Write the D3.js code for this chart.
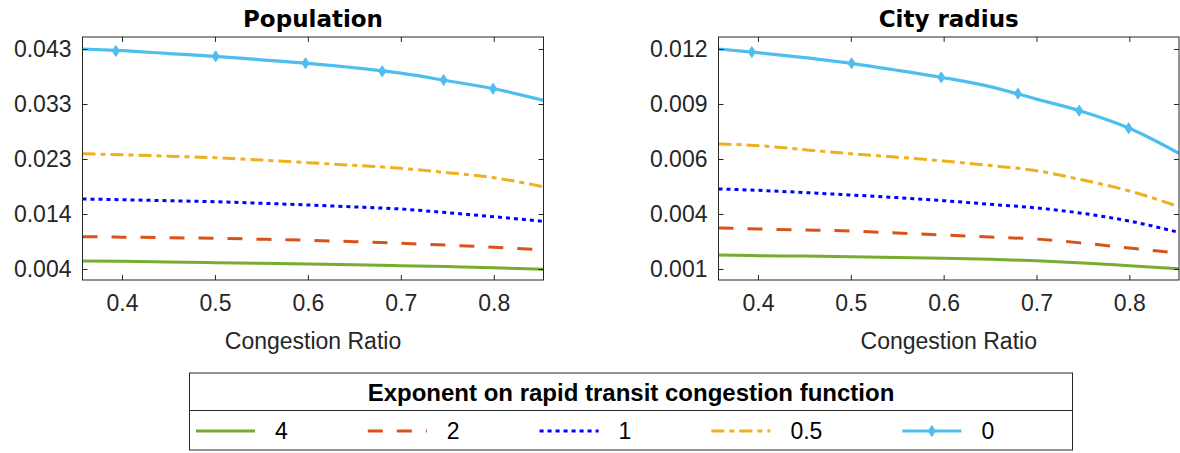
<!DOCTYPE html>
<html>
<head>
<meta charset="utf-8">
<script src="https://cdn.jsdelivr.net/npm/d3@7"></script>
<style>
  html, body { margin: 0; padding: 0; background: #fff; }
  svg { display: block; font-family: "Liberation Sans", Arial, Helvetica, sans-serif; }
</style>
</head>
<body>
<svg id="chart" width="1180" height="453"></svg>
<script>
// ---------------- data ----------------
const congestionRatio = [0.3575, 0.4, 0.45, 0.5, 0.55, 0.6, 0.65, 0.7, 0.75, 0.8, 0.8535];
const seriesNames = ["4", "2", "1", "0.5", "0"];

// Population panel
const popExp4   = [0.00541, 0.00535, 0.00523, 0.00511, 0.00500, 0.00488, 0.00474, 0.00458, 0.00442, 0.00423, 0.00395];
const popExp2   = [0.00970, 0.00962, 0.00952, 0.00941, 0.00925, 0.00906, 0.00882, 0.00853, 0.00820, 0.00783, 0.00735];
const popExp1   = [0.01635, 0.01622, 0.01605, 0.01587, 0.01560, 0.01529, 0.01495, 0.01458, 0.01393, 0.01322, 0.01241];
const popExp05  = [0.02433, 0.02416, 0.02390, 0.02363, 0.02322, 0.02275, 0.02229, 0.02176, 0.02098, 0.02010, 0.01851];
const popExp0   = [0.04280, 0.04250, 0.04200, 0.04151, 0.04090, 0.04028, 0.03950, 0.03855, 0.03720, 0.03580, 0.03375];

// City radius panel
const radExp4   = [0.00169, 0.00166, 0.00164, 0.00161, 0.00157, 0.00153, 0.00148, 0.00141, 0.00130, 0.00116, 0.00101];
const radExp2   = [0.00303, 0.00298, 0.00293, 0.00288, 0.00278, 0.00268, 0.00258, 0.00248, 0.00228, 0.00204, 0.00178];
const radExp1   = [0.00496, 0.00489, 0.00478, 0.00466, 0.00453, 0.00438, 0.00420, 0.00402, 0.00375, 0.00337, 0.00281];
const radExp05  = [0.00718, 0.00710, 0.00690, 0.00670, 0.00653, 0.00634, 0.00612, 0.00586, 0.00540, 0.00486, 0.00408];
const radExp0   = [0.01188, 0.01170, 0.01145, 0.01117, 0.01083, 0.01046, 0.01002, 0.00940, 0.00878, 0.00796, 0.00672];

// markers on the exponent-0 line
const markerRatio   = [0.3934, 0.5008, 0.5974, 0.6800, 0.7460, 0.7993];
const popMarkers0   = [0.04245, 0.04151, 0.04028, 0.03887, 0.03733, 0.03580];
const radMarkers0   = [0.01173, 0.01117, 0.01048, 0.00967, 0.00883, 0.00796];

// axis ticks
const xTicks = [0.4, 0.5, 0.6, 0.7, 0.8];
const xTickLabels = ["0.4", "0.5", "0.6", "0.7", "0.8"];
const popYTicks = [0.0040, 0.0137, 0.0234, 0.0331, 0.0428];
const popYTickLabels = ["0.004", "0.014", "0.023", "0.033", "0.043"];
const radYTicks = [0.00100, 0.00372, 0.00644, 0.00916, 0.01188];
const radYTickLabels = ["0.001", "0.004", "0.006", "0.009", "0.012"];
const popYDomain = [0.00206, 0.04492];
const radYDomain = [0.000456, 0.012473];
const xDomain = [0.3575, 0.8535];

const titles = ["Population", "City radius"];
const xLabel = "Congestion Ratio";
const legendTitle = "Exponent on rapid transit congestion function";

// ---------------- styles ----------------
const styles = {
  "4":   { color: "#77AC30", dash: null,          width: 3 },
  "2":   { color: "#D95319", dash: "15,14",       width: 3 },
  "1":   { color: "#0000FF", dash: "4,4",         width: 3 },
  "0.5": { color: "#EDB120", dash: "13,5,5,5",    width: 3 },
  "0":   { color: "#4DBEEE", dash: null,          width: 3.2, marker: true }
};

const svg = d3.select("#chart");
const axisColor = "#262626";
const titleFont = "'DejaVu Sans', 'Liberation Sans', Arial, sans-serif";
const regFont = "'Liberation Sans', Arial, sans-serif";

const panels = [
  { title: titles[0], left: 82.5, right: 543.5, series: [popExp4, popExp2, popExp1, popExp05, popExp0],
    yDomain: popYDomain, yTicks: popYTicks, yLabels: popYTickLabels, markers: popMarkers0 },
  { title: titles[1], left: 718.5, right: 1179, series: [radExp4, radExp2, radExp1, radExp05, radExp0],
    yDomain: radYDomain, yTicks: radYTicks, yLabels: radYTickLabels, markers: radMarkers0 }
];
const plotTop = 37, plotBottom = 280;

const diamond = (cx, cy, w, h) => `M${cx},${cy - h/2}L${cx + w/2},${cy}L${cx},${cy + h/2}L${cx - w/2},${cy}Z`;

panels.forEach((p, pi) => {
  const x = d3.scaleLinear().domain(xDomain).range([p.left, p.right]);
  const y = d3.scaleLinear().domain(p.yDomain).range([plotBottom, plotTop]);
  const g = svg.append("g");

  const clipId = "clip" + pi;
  svg.append("clipPath").attr("id", clipId).append("rect")
    .attr("x", p.left).attr("y", plotTop).attr("width", p.right - p.left).attr("height", plotBottom - plotTop);

  // lines
  const lineGen = d3.line().x((d, i) => x(congestionRatio[i])).y(d => y(d)).curve(d3.curveMonotoneX);
  const lg = g.append("g").attr("clip-path", `url(#${clipId})`);
  p.series.forEach((vals, si) => {
    const st = styles[seriesNames[si]];
    lg.append("path").datum(vals)
      .attr("d", lineGen)
      .attr("fill", "none")
      .attr("stroke", st.color)
      .attr("stroke-width", st.width)
      .attr("stroke-dasharray", st.dash)
      .attr("stroke-linejoin", "round");
  });
  // markers
  lg.selectAll("path.mk").data(p.markers).enter().append("path")
    .attr("class", "mk")
    .attr("d", (d, i) => diamond(x(markerRatio[i]), y(d), 7, 11))
    .attr("fill", styles["0"].color)
    .attr("stroke", styles["0"].color)
    .attr("stroke-width", 1);

  // axes (box with ticks inside on all sides)
  const axisFont = "23px";
  const xb = g.append("g").attr("transform", `translate(0,${plotBottom})`)
    .call(d3.axisBottom(x).tickValues(xTicks).tickFormat((d, i) => xTickLabels[i]).tickSizeInner(-5).tickSizeOuter(0).tickPadding(15));
  const xt = g.append("g").attr("transform", `translate(0,${plotTop})`)
    .call(d3.axisTop(x).tickValues(xTicks).tickFormat("").tickSizeInner(-5).tickSizeOuter(0));
  const yl = g.append("g").attr("transform", `translate(${p.left},0)`)
    .call(d3.axisLeft(y).tickValues(p.yTicks).tickFormat((d, i) => p.yLabels[i]).tickSizeInner(-5).tickSizeOuter(0).tickPadding(11));
  const yr = g.append("g").attr("transform", `translate(${p.right},0)`)
    .call(d3.axisRight(y).tickValues(p.yTicks).tickFormat("").tickSizeInner(-5).tickSizeOuter(0));
  [xb, xt, yl, yr].forEach(a => {
    a.select(".domain").remove();
    a.selectAll("line").attr("stroke", axisColor).attr("stroke-width", 1);
    a.selectAll("text").attr("fill", axisColor).style("font-size", axisFont).style("font-family", regFont);
  });
  g.append("rect").attr("x", p.left).attr("y", plotTop).attr("width", p.right - p.left).attr("height", plotBottom - plotTop)
    .attr("fill", "none").attr("stroke", axisColor).attr("stroke-width", 1);

  // title
  g.append("text").attr("x", (p.left + p.right) / 2).attr("y", 27)
    .attr("text-anchor", "middle").attr("font-weight", "bold").attr("font-size", "23px")
    .style("font-family", titleFont).attr("fill", "#000")
    .text(p.title);
  // x label
  g.append("text").attr("x", (p.left + p.right) / 2).attr("y", 349)
    .attr("text-anchor", "middle").attr("font-size", "23px").style("font-family", regFont).attr("fill", axisColor)
    .text(xLabel);
});

// ---------------- legend ----------------
const lgBox = { x: 189.5, y: 373, w: 883, h: 77, div: 410.5 };
const leg = svg.append("g");
leg.append("rect").attr("x", lgBox.x).attr("y", lgBox.y).attr("width", lgBox.w).attr("height", lgBox.h)
  .attr("fill", "#fff").attr("stroke", axisColor).attr("stroke-width", 1);
leg.append("line").attr("x1", lgBox.x).attr("x2", lgBox.x + lgBox.w).attr("y1", lgBox.div).attr("y2", lgBox.div)
  .attr("stroke", axisColor).attr("stroke-width", 1);
leg.append("text").attr("x", lgBox.x + lgBox.w / 2).attr("y", 401)
  .attr("text-anchor", "middle").attr("font-weight", "bold").attr("font-size", "24px")
  .style("font-family", regFont).attr("fill", "#000")
  .text(legendTitle);

let cx = 196;
const rowY = 431;
seriesNames.forEach(name => {
  const st = styles[name];
  leg.append("line").attr("x1", cx).attr("x2", cx + 59).attr("y1", rowY).attr("y2", rowY)
    .attr("stroke", st.color).attr("stroke-width", st.width).attr("stroke-dasharray", st.dash);
  if (st.marker) {
    leg.append("path").attr("d", diamond(cx + 29.5, rowY, 7, 11)).attr("fill", st.color).attr("stroke", st.color);
  }
  const t = leg.append("text").attr("x", cx + 59 + 20).attr("y", rowY + 8)
    .attr("font-size", "23px").style("font-family", regFont).attr("fill", "#000").text(name);
  const tw = t.node().getComputedTextLength();
  cx = cx + 59 + 20 + tw + 80;
});
</script>
</body>
</html>
